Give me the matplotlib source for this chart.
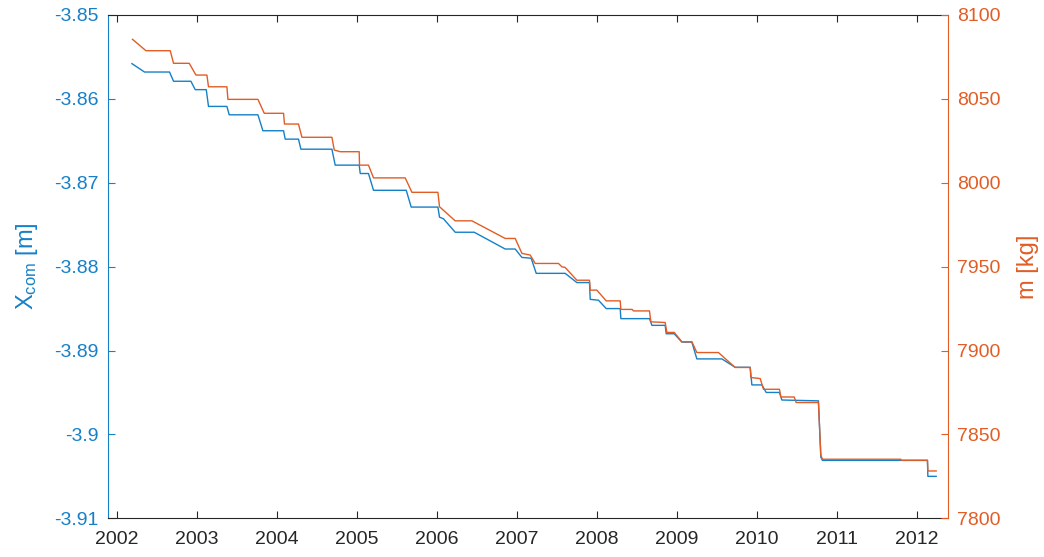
import matplotlib
matplotlib.use("Agg")
import matplotlib.pyplot as plt

plt.rcParams['font.family'] = ['Liberation Sans', 'DejaVu Sans']
plt.rcParams['mathtext.default'] = 'regular'

BLUE = '#1580C8'
ORANGE = '#E15D25'
DARK = '#262626'

# centre of mass position (left axis), time in decimal years
xcom_t = [2002.184, 2002.341, 2002.654, 2002.704, 2002.921, 2002.975, 2003.113, 2003.141,
          2003.371, 2003.400, 2003.759, 2003.821, 2004.079, 2004.100, 2004.266, 2004.296,
          2004.684, 2004.725, 2005.025, 2005.038, 2005.141, 2005.204, 2005.613, 2005.675,
          2006.009, 2006.029, 2006.079, 2006.225, 2006.463, 2006.850, 2006.975, 2007.059,
          2007.175, 2007.238, 2007.600, 2007.746, 2007.904, 2007.913, 2008.016, 2008.113,
          2008.288, 2008.296, 2008.654, 2008.684, 2008.850, 2008.863, 2008.963, 2009.059,
          2009.184, 2009.246, 2009.559, 2009.725, 2009.913, 2009.934, 2010.059, 2010.113,
          2010.279, 2010.309, 2010.766, 2010.796, 2010.816, 2012.129, 2012.134, 2012.238]
xcom = [-3.8558, -3.8568, -3.8568, -3.8579, -3.8579, -3.8589, -3.8589, -3.8609,
        -3.8609, -3.8619, -3.8619, -3.8638, -3.8638, -3.8648, -3.8648, -3.8660,
        -3.8660, -3.8679, -3.8679, -3.8689, -3.8689, -3.8709, -3.8709, -3.8729,
        -3.8729, -3.8741, -3.8743, -3.8759, -3.8759, -3.8779, -3.8779, -3.8789,
        -3.8790, -3.8808, -3.8808, -3.8819, -3.8819, -3.8839, -3.8840, -3.8850,
        -3.8850, -3.8862, -3.8862, -3.8870, -3.8870, -3.8880, -3.8880, -3.8890,
        -3.8890, -3.8910, -3.8910, -3.8920, -3.8920, -3.8941, -3.8941, -3.8950,
        -3.8950, -3.8959, -3.8960, -3.9027, -3.9031, -3.9031, -3.9050, -3.9050]

# mass (right axis)
mass_t = [2002.191, 2002.359, 2002.663, 2002.704, 2002.900, 2002.984, 2003.121, 2003.141,
          2003.371, 2003.384, 2003.759, 2003.838, 2004.079, 2004.091, 2004.266, 2004.309,
          2004.684, 2004.713, 2004.788, 2005.025, 2005.029, 2005.141, 2005.204, 2005.600,
          2005.684, 2006.009, 2006.029, 2006.225, 2006.434, 2006.850, 2006.975, 2007.059,
          2007.163, 2007.225, 2007.516, 2007.559, 2007.600, 2007.746, 2007.904, 2007.913,
          2007.996, 2008.113, 2008.288, 2008.296, 2008.438, 2008.454, 2008.654, 2008.671,
          2008.850, 2008.871, 2008.963, 2009.059, 2009.184, 2009.246, 2009.516, 2009.725,
          2009.913, 2009.921, 2010.038, 2010.079, 2010.279, 2010.296, 2010.463, 2010.488,
          2010.766, 2010.796, 2010.816, 2011.796, 2011.800, 2012.129, 2012.134, 2012.238]
mass = [8085.5, 8078.7, 8078.7, 8071.2, 8071.2, 8064.2, 8064.2, 8057.2,
        8057.2, 8049.7, 8049.7, 8041.4, 8041.4, 8035.0, 8035.0, 8027.1,
        8027.1, 8019.5, 8018.5, 8018.5, 8010.5, 8010.5, 8002.9, 8002.9,
        7994.3, 7994.3, 7985.7, 7977.3, 7977.3, 7966.8, 7966.8, 7957.9,
        7956.9, 7951.9, 7951.9, 7949.9, 7949.5, 7941.9, 7941.9, 7936.0,
        7936.0, 7929.6, 7929.6, 7924.5, 7924.5, 7923.6, 7923.6, 7917.1,
        7916.7, 7910.8, 7910.8, 7905.2, 7905.2, 7898.8, 7898.8, 7889.9,
        7889.9, 7883.9, 7883.3, 7876.9, 7876.9, 7872.3, 7872.3, 7869.0,
        7869.0, 7837.6, 7835.2, 7835.2, 7834.6, 7834.6, 7828.2, 7828.2]

years = list(range(2002, 2013))
left_ticks = [-3.91, -3.9, -3.89, -3.88, -3.87, -3.86, -3.85]
left_labels = ['-3.91', '-3.9', '-3.89', '-3.88', '-3.87', '-3.86', '-3.85']
right_ticks = [7800, 7850, 7900, 7950, 8000, 8050, 8100]

fig = plt.figure(figsize=(10.44, 5.57), dpi=100)
ax = fig.add_axes([0.1034, 0.0695, 0.8042, 0.9036])
ax2 = ax.twinx()

ax.plot(xcom_t, xcom, color=BLUE, lw=1.0)
ax2.plot(mass_t, mass, color=ORANGE, lw=1.0)

ax.set_xlim(2001.884, 2012.38)
ax.set_ylim(-3.91, -3.85)
ax2.set_ylim(7800, 8100)

ax.set_xticks(years)
ax.set_xticklabels([str(y) for y in years])
ax.set_yticks(left_ticks)
ax.set_yticklabels(left_labels)
ax2.set_yticks(right_ticks)
ax2.set_yticklabels([str(v) for v in right_ticks])

ax.tick_params(axis='x', direction='in', top=True, length=5, width=0.8,
               colors=DARK, labelsize=14, pad=9)
ax.tick_params(axis='y', direction='in', left=True, right=False, length=5, width=0.8,
               colors=BLUE, labelsize=14, pad=7)
ax2.tick_params(axis='y', direction='in', length=5, width=0.8,
                colors=ORANGE, labelsize=14, pad=7)

ax.spines['left'].set_color(BLUE)
ax.spines['right'].set_visible(False)
ax.spines['top'].set_color(DARK)
ax.spines['bottom'].set_color(DARK)
ax2.spines['right'].set_color(ORANGE)
ax2.spines['left'].set_visible(False)
ax2.spines['top'].set_visible(False)
ax2.spines['bottom'].set_visible(False)

ax.set_ylabel(r'X$_{com}$ [m]', color=BLUE, fontsize=17, labelpad=10)
ax2.set_ylabel('m [kg]', color=ORANGE, fontsize=17, labelpad=12)

fig.savefig('out.png', dpi=100)
